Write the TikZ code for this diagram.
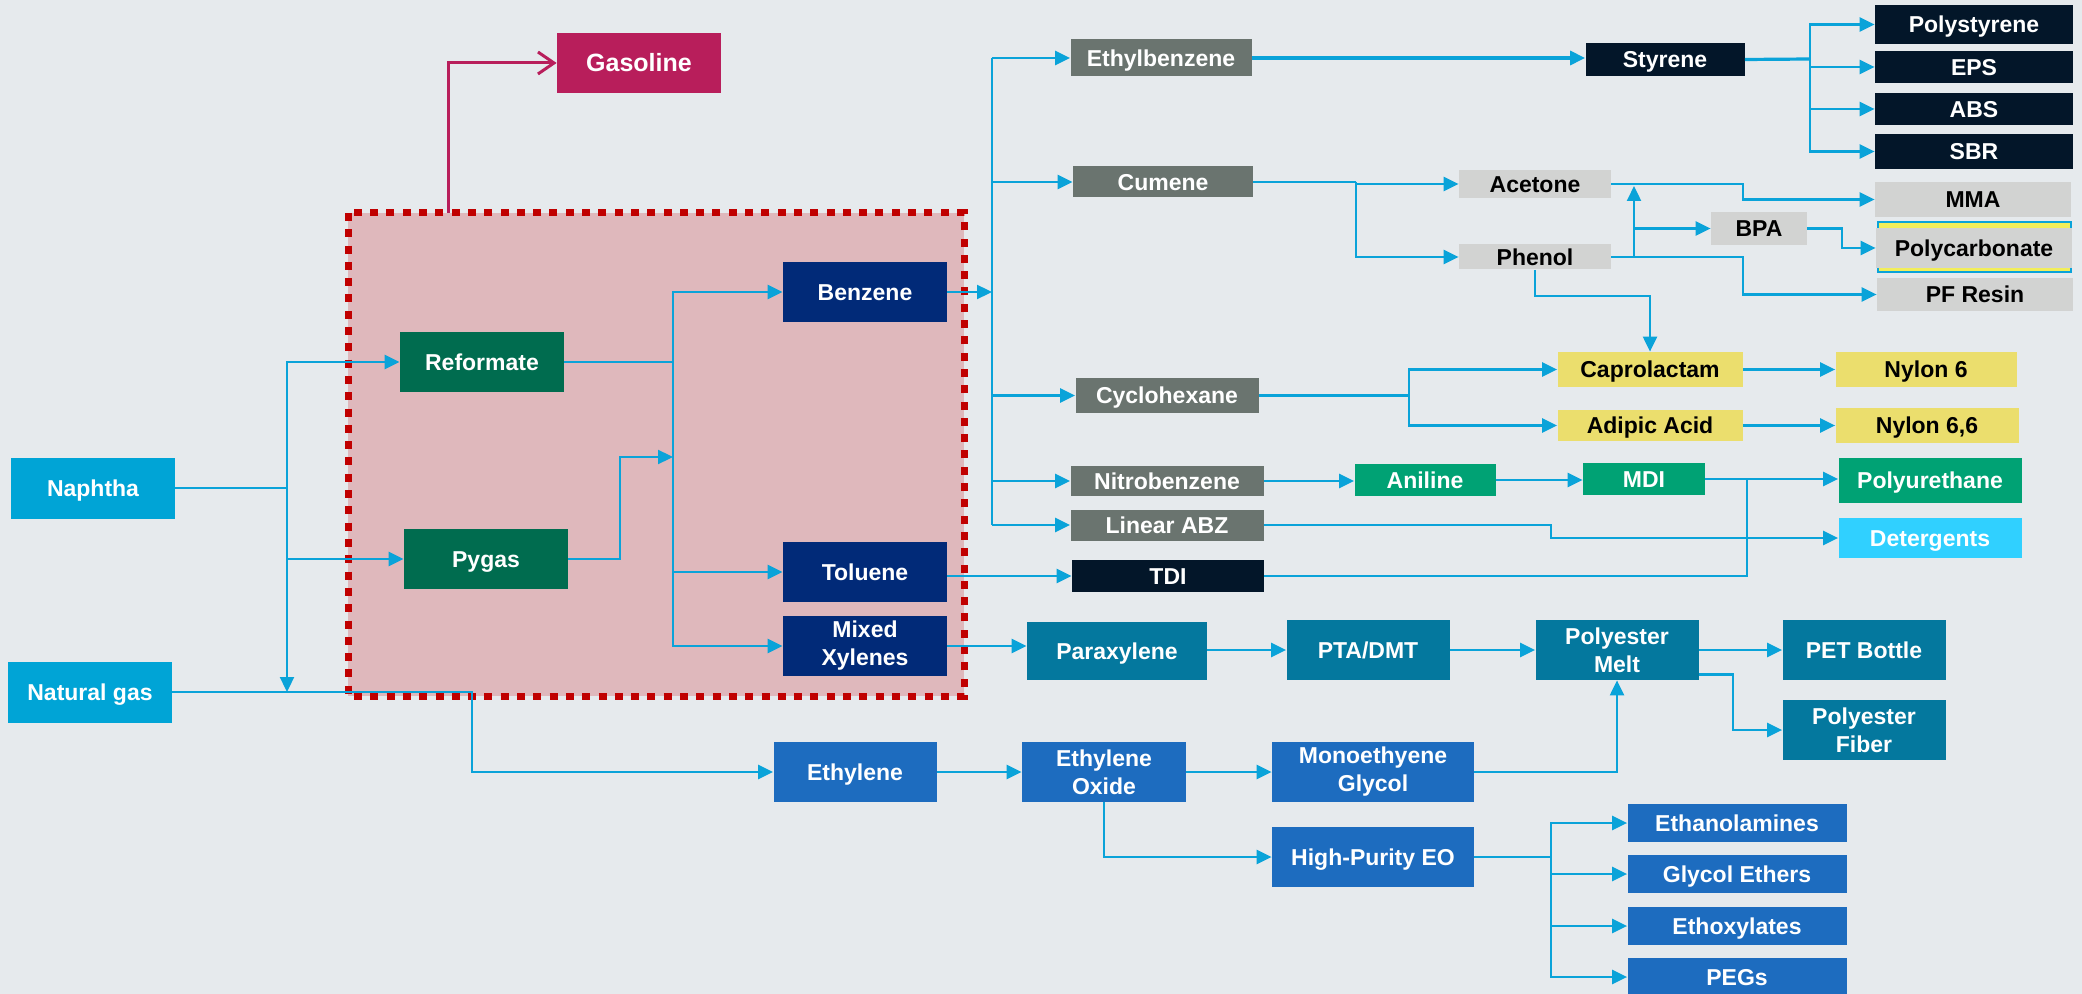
\documentclass[tikz,border=0pt]{standalone}
\usepackage{fontspec}
\setmainfont{Liberation Sans}
\usetikzlibrary{arrows.meta}

\definecolor{bgC}{HTML}{E6EAED}
\definecolor{lineC}{HTML}{0AA3D9}
\definecolor{magentaC}{HTML}{B81E5B}
\definecolor{redC}{HTML}{C00000}
\definecolor{pinkC}{HTML}{DFB8BC}
\definecolor{dkgreenC}{HTML}{006C4F}
\definecolor{navyC}{HTML}{012A78}
\definecolor{feedC}{HTML}{00A4D6}
\definecolor{greyC}{HTML}{6A746F}
\definecolor{inkC}{HTML}{031629}
\definecolor{lgreyC}{HTML}{D2D3D2}
\definecolor{yellowC}{HTML}{EBDE6D}
\definecolor{greenC}{HTML}{00A274}
\definecolor{detC}{HTML}{30D0FF}
\definecolor{tealC}{HTML}{04789E}
\definecolor{blueC}{HTML}{1D6CBF}
\definecolor{pcYellowC}{HTML}{F2EE5A}

\newcommand\bxfont{\fontsize{11.5}{14}\selectfont\bfseries}
\newcommand\gasfont{\fontsize{12.5}{15}\selectfont\bfseries}

\tikzset{
  bx/.style n args={3}{rectangle, inner sep=0pt, fill=#1, text=white,
    minimum width=#2*0.5pt, minimum height=#3*0.5pt, font=\bxfont, align=center,
    text height=8.2pt, text depth=0pt},
  two/.style={text height={}, text depth={}},
  dark/.style={text=black},
  ln/.style={draw=lineC, line width=1.15pt},
  ar/.style={ln, -{Triangle[length=7.5pt,width=7pt]}},
  gasln/.style={draw=magentaC, line width=1.5pt, -{Straight Barb[length=8pt,width=11pt,line width=1.5pt]}},
}

\begin{document}
\begin{tikzpicture}[x=0.5pt, y=-0.5pt]
\useasboundingbox[fill=bgC] (0,0) rectangle (2082,994);

% aromatics complex frame
\fill[pinkC] (348,213) rectangle (964,696);
\draw[redC, line width=3.5pt, dash pattern=on 4pt off 4.15pt] (348,213) rectangle (964,696);

% feedstocks and aromatics complex
\node[bx={magentaC}{164}{60}, font=\gasfont, text height=9pt] (gasoline) at (639,63) {Gasoline};
\node[bx={feedC}{164}{61}] (naphtha) at (93,488) {Naphtha};
\node[bx={feedC}{164}{61}] (natgas) at (90,692) {Natural gas};
\node[bx={dkgreenC}{164}{60}] (reformate) at (482,362) {Reformate};
\node[bx={dkgreenC}{164}{60}] (pygas) at (486,559) {Pygas};
\node[bx={navyC}{164}{60}] (benzene) at (865,292) {Benzene};
\node[bx={navyC}{164}{60}] (toluene) at (865,572) {Toluene};
\node[bx={navyC}{164}{60}, two] (xylenes) at (865,646) {Mixed\\Xylenes};

% benzene derivatives
\node[bx={greyC}{181}{37}] (ethylbenzene) at (1161,58) {Ethylbenzene};
\node[bx={greyC}{180}{31}] (cumene) at (1163,182) {Cumene};
\node[bx={greyC}{183}{35}] (cyclohexane) at (1167,395.5) {Cyclohexane};
\node[bx={greyC}{193}{30}] (nitrobenzene) at (1167,481) {Nitrobenzene};
\node[bx={greyC}{193}{31}] (linabz) at (1167,525) {Linear ABZ};
\node[bx={inkC}{192}{32}] (tdi) at (1168,576) {TDI};

% styrenics
\node[bx={inkC}{159}{33}] (styrene) at (1665,59.5) {Styrene};
\node[bx={inkC}{198}{39}] (polystyrene) at (1974,24.5) {Polystyrene};
\node[bx={inkC}{198}{32}] (eps) at (1974,67) {EPS};
\node[bx={inkC}{198}{32}] (abs) at (1974,109) {ABS};
\node[bx={inkC}{198}{35}] (sbr) at (1974,151.5) {SBR};

% phenolics
\node[bx={lgreyC}{152}{28}, dark] (acetone) at (1535,184) {Acetone};
\node[bx={lgreyC}{152}{25}, dark] (phenol) at (1535,257) {Phenol};
\node[bx={lgreyC}{96}{33}, dark] (bpa) at (1759,228.5) {BPA};
\node[bx={lgreyC}{196}{35}, dark] (mma) at (1973,199.5) {MMA};
\fill[pcYellowC, draw=lineC, line width=1pt] (1878,222) rectangle (2071,272);
\node[bx={lgreyC}{196}{40}, dark] (polycarb) at (1974,248) {Polycarbonate};
\node[bx={lgreyC}{196}{33}, dark] (pfresin) at (1975,294.5) {PF Resin};

% nylons
\node[bx={yellowC}{185}{35}, dark] (caprolactam) at (1650,369.5) {Caprolactam};
\node[bx={yellowC}{185}{31}, dark] (adipic) at (1650,425.5) {Adipic Acid};
\node[bx={yellowC}{181}{35}, dark] (nylon6) at (1926,369.5) {Nylon 6};
\node[bx={yellowC}{183}{35}, dark] (nylon66) at (1927,425.5) {Nylon 6,6};

% urethanes and detergents
\node[bx={greenC}{141}{32}] (aniline) at (1425,480) {Aniline};
\node[bx={greenC}{122}{32}] (mdi) at (1644,479) {MDI};
\node[bx={greenC}{183}{45}] (polyurethane) at (1930,480.5) {Polyurethane};
\node[bx={detC}{183}{40}] (detergents) at (1930,538) {Detergents};

% polyester chain
\node[bx={tealC}{180}{58}] (paraxylene) at (1117,651) {Paraxylene};
\node[bx={tealC}{163}{60}] (ptadmt) at (1368,650) {PTA/DMT};
\node[bx={tealC}{163}{60}, two] (pmelt) at (1617,650) {Polyester\\Melt};
\node[bx={tealC}{163}{60}] (petbottle) at (1864,650) {PET Bottle};
\node[bx={tealC}{163}{60}, two] (pfiber) at (1864,730) {Polyester\\Fiber};

% ethylene chain
\node[bx={blueC}{163}{60}] (ethylene) at (855,772) {Ethylene};
\node[bx={blueC}{164}{60}, two] (eo) at (1104,772) {Ethylene\\Oxide};
\node[bx={blueC}{202}{60}, two] (meg) at (1373,772) {Monoethyene\\Glycol};
\node[bx={blueC}{202}{60}] (hpeo) at (1373,857) {High-Purity EO};
\node[bx={blueC}{219}{38}] (ethanolamines) at (1737,823) {Ethanolamines};
\node[bx={blueC}{219}{38}] (glycolethers) at (1737,874) {Glycol Ethers};
\node[bx={blueC}{219}{38}] (ethoxylates) at (1737,926) {Ethoxylates};
\node[bx={blueC}{219}{38}] (pegs) at (1737,977) {PEGs};

% junction points
\coordinate (gtop) at (448,213);
\coordinate (jN) at (287,488);
\coordinate (jG) at (472,692);
\coordinate (jB) at (673,362);
\coordinate (jP) at (620,457);
\coordinate (jP2) at (673,457);
\coordinate (busB) at (992,292);
\coordinate (busT) at (992,58);
\coordinate (busE) at (992,525);
\coordinate (jS) at (1810,59);
\coordinate (jC) at (1356,182);
\coordinate (jA) at (1743,184);
\coordinate (jPf) at (1743,257);
\coordinate (jPh) at (1634,257);
\coordinate (jPh2) at (1634,186);
\coordinate (jBp) at (1842,228.5);
\coordinate (jCp) at (1650,296);
\coordinate (jCy) at (1409,395.5);
\coordinate (jM) at (1747,479);
\coordinate (jL) at (1551,525);
\coordinate (jF) at (1733,674.5);
\coordinate (jH) at (1551,857);

% gasoline draw-off
\draw[gasln] (gtop) |- (gasoline.west);

% feeds
\draw[ln] (naphtha.east) -- (jN);
\draw[ar] (jN) |- (reformate.west);
\draw[ar] (jN) |- (pygas.west);
\draw[ar] (jN) -- (jN |- natgas.east);
\draw[ar] (natgas.east) -- (jG) |- (ethylene.west);

% aromatics split
\draw[ar] (reformate.east) -- (jB) |- (benzene.west);
\draw[ar] (jB) |- (toluene.west);
\draw[ar] (jB) |- (xylenes.west);
\draw[ar] (pygas.east) -| (jP) -- (jP2);

% benzene bus
\draw[ar] (benzene.east) -- (busB);
\draw[ln] (busT) -- (busE);
\draw[ar] (busT) -- (ethylbenzene.west);
\draw[ar] (busT |- cumene.west) -- (cumene.west);
\draw[ar] (busT |- cyclohexane.west) -- (cyclohexane.west);
\draw[ar] (busT |- nitrobenzene.west) -- (nitrobenzene.west);
\draw[ar] (busE) -- (linabz.west);

% styrenics
\draw[ar, line width=1.6pt] (ethylbenzene.east) -- (ethylbenzene.east -| styrene.west);
\draw[ln, line width=1.6pt] (styrene.east) -- (jS);
\draw[ar] (jS) |- (polystyrene.west);
\draw[ar] (jS) |- (eps.west);
\draw[ar] (jS) |- (abs.west);
\draw[ar] (jS) |- (sbr.west);

% phenolics
\draw[ln] (cumene.east) -- (jC);
\draw[ar] (jC) |- (acetone.west);
\draw[ar] (jC) |- (phenol.west);
\draw[ar] (acetone.east) -- (jA) |- (mma.west);
\draw[ar] (phenol.east) -- (jPf) |- (pfresin.west);
\draw[ar] (jPh) -- (jPh2);
\draw[ar] (jPh |- bpa.west) -- (bpa.west);
\draw[ar] (bpa.east) -- (jBp) |- (polycarb.west);
\draw[ar] (phenol.south) |- (jCp) -- (caprolactam.north);

% nylons
\draw[ln] (cyclohexane.east) -- (jCy);
\draw[ar] (jCy) |- (caprolactam.west);
\draw[ar] (jCy) |- (adipic.west);
\draw[ar] (caprolactam.east) -- (nylon6.west);
\draw[ar] (adipic.east) -- (nylon66.west);

% urethanes and detergents
\draw[ar] (nitrobenzene.east) -- (nitrobenzene.east -| aniline.west);
\draw[ar] (aniline.east) -- (aniline.east -| mdi.west);
\draw[ar] (mdi.east) -- (mdi.east -| polyurethane.west);
\draw[ar] (toluene.east |- tdi.west) -- (tdi.west);
\draw[ln] (tdi.east) -| (jM);
\draw[ar] (linabz.east) -- (jL) |- (detergents.west);

% polyester chain
\draw[ar] (xylenes.east) -- (xylenes.east -| paraxylene.west);
\draw[ar] (paraxylene.east |- ptadmt.west) -- (ptadmt.west);
\draw[ar] (ptadmt.east) -- (pmelt.west);
\draw[ar] (pmelt.east) -- (petbottle.west);
\draw[ar] (pmelt.east |- jF) -- (jF) |- (pfiber.west);

% ethylene chain
\draw[ar] (ethylene.east) -- (eo.west);
\draw[ar] (eo.east) -- (meg.west);
\draw[ar] (meg.east) -| (pmelt.south);
\draw[ar] (eo.south) |- (hpeo.west);
\draw[ln] (hpeo.east) -- (jH);
\draw[ar] (jH) |- (ethanolamines.west);
\draw[ar] (jH) |- (glycolethers.west);
\draw[ar] (jH) |- (ethoxylates.west);
\draw[ar] (jH) |- (pegs.west);
\end{tikzpicture}
\end{document}
